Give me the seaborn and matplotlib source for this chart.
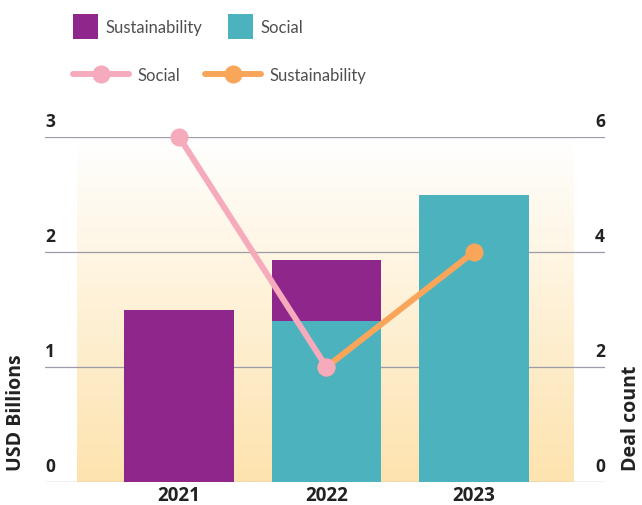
import numpy as np
import pandas as pd
import matplotlib
matplotlib.use("Agg")
import matplotlib.pyplot as plt
import matplotlib.transforms as mtransforms
from matplotlib.colors import LinearSegmentedColormap
from matplotlib.patches import Patch
from matplotlib.lines import Line2D
import seaborn as sns

# Issuance volume (USD billions) and number of deals per year
years = ["2021", "2022", "2023"]
social_usd = [0.0, 1.4, 2.5]
sustainability_usd = [1.5, 0.53, 0.0]
social_deals = [6, 2, np.nan]
sustainability_deals = [np.nan, 2, 4]
usd_ticks = [0, 1, 2, 3]
deal_ticks = [0, 2, 4, 6]

PURPLE = "#8E268C"
TEAL = "#4CB2BD"
PINK = "#F5ABBC"
ORANGE = "#F9A65B"
GRID = "#9D9AAA"
TEXT = "#222222"
LEGEND_TEXT = "#4F4F4F"
BOLD_FONT = ["Open Sans", "DejaVu Sans"]
LIGHT_FONT = ["Lato", "DejaVu Sans"]

sns.set_theme(style="white")
plt.rcParams["font.family"] = BOLD_FONT

fig = plt.figure(figsize=(6.42, 5.06), dpi=100)
ax = fig.add_axes([45 / 642, 23 / 506, 560 / 642, 345 / 506])

# warm vertical gradient behind the bars
grad = np.linspace(0, 1, 256).reshape(-1, 1)
warm = LinearSegmentedColormap.from_list("warm", ["#FFFFFF", "#FDE3AE"])
ax.imshow(grad, extent=(-0.69, 2.68, 0, 3), origin="upper", cmap=warm,
          aspect="auto", zorder=0, interpolation="bilinear")

for v in usd_ticks:
    ax.axhline(v, color=GRID, lw=0.9, zorder=1)

# stacked bars: total height in purple, social share in teal on top of it
df = pd.DataFrame({
    "year": years,
    "social": [s if s > 0 else np.nan for s in social_usd],
    "total": [s + u if u > 0 else np.nan for s, u in zip(social_usd, sustainability_usd)],
})
sns.barplot(data=df, x="year", y="total", color=PURPLE, saturation=1, width=0.746,
            linewidth=0, ax=ax, zorder=2)
sns.barplot(data=df, x="year", y="social", color=TEAL, saturation=1, width=0.746,
            linewidth=0, ax=ax, zorder=3)

# deal counts on the secondary axis
ax2 = ax.twinx()
pos = np.arange(len(years))
sns.lineplot(x=pos, y=sustainability_deals, ax=ax2, color=ORANGE, lw=4.3, marker="o",
             markersize=13, markeredgewidth=0, clip_on=False)
sns.lineplot(x=pos, y=social_deals, ax=ax2, color=PINK, lw=4.3, marker="o",
             markersize=13, markeredgewidth=0, clip_on=False)

ax.set_ylim(0, 3)
ax2.set_ylim(0, 6)
ax.set_xlim(-0.91, 2.89)

for a in (ax, ax2):
    sns.despine(ax=a, left=True, right=True, top=True, bottom=True)
    a.set_yticks([])
    a.set_ylabel("")
    a.set_xlabel("")
    a.grid(False)

ax.set_xticks(pos)
ax.set_xticklabels(years, fontsize=13.5, fontweight="bold", color=TEXT)
ax.tick_params(axis="x", length=0, pad=2)

# value labels sitting just above each gridline
up = mtransforms.offset_copy(ax.get_yaxis_transform(), fig=fig, x=0, y=11, units="dots")
for v in usd_ticks:
    ax.text(0, v, str(v), transform=up, ha="left", va="baseline",
            fontsize=12.5, fontweight="bold", color=TEXT)
up2 = mtransforms.offset_copy(ax2.get_yaxis_transform(), fig=fig, x=0, y=11, units="dots")
for v in deal_ticks:
    ax2.text(1, v, str(v), transform=up2, ha="right", va="baseline",
             fontsize=12.5, fontweight="bold", color=TEXT)

fig.text(16 / 642, 1 - 471 / 506, "USD Billions", rotation=90, ha="center", va="bottom",
         fontsize=14, fontweight="bold", color=TEXT)
fig.text(631 / 642, 1 - 471 / 506, "Deal count", rotation=90, ha="center", va="bottom",
         fontsize=14, fontweight="bold", color=TEXT)

legend_prop = {"family": LIGHT_FONT, "weight": "normal", "size": 12}
bar_handles = [Patch(facecolor=PURPLE, edgecolor="none"), Patch(facecolor=TEAL, edgecolor="none")]
fig.legend(bar_handles, ["Sustainability", "Social"], loc="center left",
           bbox_to_anchor=(73 / 642, 1 - 27.5 / 506), ncol=2, frameon=False,
           borderpad=0, borderaxespad=0, handlelength=1.5, handleheight=1.86,
           handletextpad=0.48, columnspacing=1.5,
           prop=legend_prop, labelcolor=LEGEND_TEXT)
line_handles = [Line2D([], [], color=PINK, lw=4.3, marker="o", markersize=13, markeredgewidth=0),
                Line2D([], [], color=ORANGE, lw=4.3, marker="o", markersize=13, markeredgewidth=0)]
fig.legend(line_handles, ["Social", "Sustainability"], loc="center left",
           bbox_to_anchor=(73 / 642, 1 - 76 / 506), ncol=2, frameon=False,
           borderpad=0, borderaxespad=0, handlelength=3.35,
           handletextpad=0.55, columnspacing=1.45,
           prop=legend_prop, labelcolor=LEGEND_TEXT)

fig.savefig("out.png", dpi=100)
